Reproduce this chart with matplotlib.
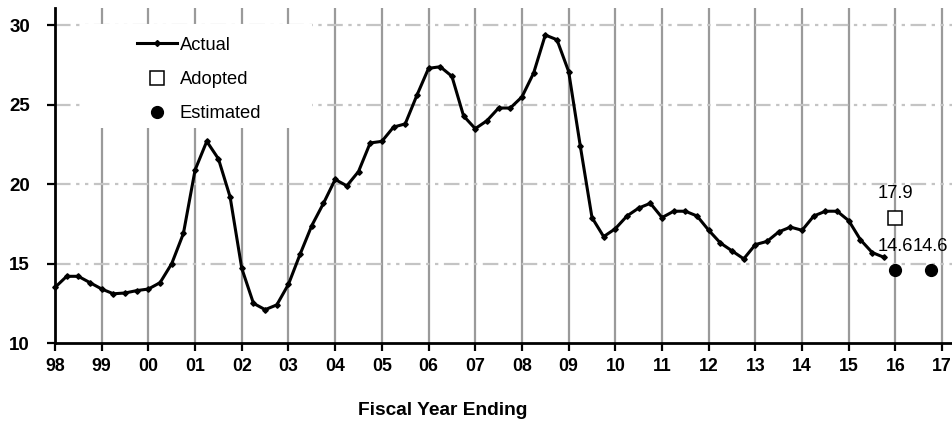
import numpy as np
import matplotlib
matplotlib.use("Agg")
import matplotlib.pyplot as plt
from matplotlib.patches import Rectangle
from matplotlib.lines import Line2D

plt.rcParams['font.family'] = ['Liberation Sans', 'DejaVu Sans']

# Quarterly actual values, FY98 Q1 .. FY15 Q4
actual = [
    13.5, 14.2, 14.2, 13.8,
    13.4, 13.1, 13.15, 13.3,
    13.4, 13.8, 15.0, 16.9,
    20.9, 22.7, 21.6, 19.2,
    14.7, 12.5, 12.1, 12.4,
    13.7, 15.6, 17.4, 18.8,
    20.3, 19.9, 20.8, 22.6,
    22.7, 23.6, 23.8, 25.6,
    27.3, 27.4, 26.8, 24.3,
    23.5, 24.0, 24.8, 24.8,
    25.5, 27.0, 29.4, 29.1,
    27.1, 22.4, 17.9, 16.7,
    17.2, 18.0, 18.5, 18.8,
    17.9, 18.3, 18.3, 18.0,
    17.1, 16.3, 15.8, 15.3,
    16.2, 16.4, 17.0, 17.3,
    17.1, 18.0, 18.3, 18.3,
    17.7, 16.5, 15.7, 15.4,
]
start_year = 1998
adopted_year = [2016.0]
adopted_val = [17.9]
estimated_year = [2016.0, 2016.75]
estimated_val = [14.6, 14.6]
year_labels = ['98', '99', '00', '01', '02', '03', '04', '05', '06', '07',
               '08', '09', '10', '11', '12', '13', '14', '15', '16', '17']
y_ticks = [10, 15, 20, 25, 30]

actual_x = start_year + np.arange(len(actual)) / 4.0

fig = plt.figure(figsize=(9.52, 4.23), dpi=100)
ax = fig.add_axes([55 / 952, 80 / 423, 897 / 952, 335 / 423])

ax.set_xlim(start_year, start_year + 19.21)
ax.set_ylim(10, 31.1)

# grid: solid grey verticals at each year, dash-dot horizontals
year_ticks = start_year + np.arange(len(year_labels))
for yr in year_ticks[1:]:
    ax.axvline(yr, color='#9a9a9a', lw=1.6, zorder=1)
for yv in y_ticks[1:]:
    ax.axhline(yv, color='#c4c4c4', lw=1.6, zorder=1,
               linestyle=(0, (7, 2.5, 1.5, 2.5, 1.5, 2.5)))

# blank panel behind the legend
ax.add_patch(Rectangle((0.028, 0.642), 0.259, 0.31, transform=ax.transAxes,
                       facecolor='white', edgecolor='none', zorder=2))

ax.plot(actual_x, actual, color='black', lw=2.2, marker='D', markersize=2.8,
        zorder=4, clip_on=False)
ax.plot(adopted_year, adopted_val, linestyle='none', marker='s', markersize=9.5,
        markerfacecolor='white', markeredgecolor='black', markeredgewidth=1.1, zorder=5)
ax.plot(estimated_year, estimated_val, linestyle='none', marker='o', markersize=8.5,
        color='black', zorder=5)

for xv, v in zip(adopted_year, adopted_val):
    ax.annotate(f'{v:.1f}', (xv, v), xytext=(0, 17.5), textcoords='offset points',
                ha='center', va='center', fontsize=13.2)
for xv, v in zip(estimated_year, estimated_val):
    ax.annotate(f'{v:.1f}', (xv, v), xytext=(0, 17), textcoords='offset points',
                ha='center', va='center', fontsize=13.2)

ax.set_xticks(year_ticks)
ax.set_xticklabels(year_labels, fontsize=12.8, fontweight='bold')
ax.set_yticks(y_ticks)
ax.set_yticklabels([str(t) for t in y_ticks], fontsize=13.5, fontweight='bold')
ax.tick_params(axis='both', direction='out', length=6, width=1.6, color='black')
ax.tick_params(axis='x', pad=5)
ax.tick_params(axis='y', pad=12)

for side in ['top', 'right']:
    ax.spines[side].set_visible(False)
for side in ['left', 'bottom']:
    ax.spines[side].set_linewidth(2)
    ax.spines[side].set_zorder(6)

handles = [
    Line2D([], [], color='black', lw=2.2, marker='D', markersize=3),
    Line2D([], [], linestyle='none', marker='s', markersize=9.5,
           markerfacecolor='white', markeredgecolor='black', markeredgewidth=1.1),
    Line2D([], [], linestyle='none', marker='o', markersize=8.5, color='black'),
]
leg = ax.legend(handles, ['Actual', 'Adopted', 'Estimated'], loc='upper left',
                bbox_to_anchor=(0.077, 0.953), frameon=False, fontsize=13.2,
                handlelength=2.2, handletextpad=0.15, labelspacing=0.95,
                borderpad=0.2)
leg.set_zorder(7)

fig.text(443 / 952, 1 - 410 / 423, 'Fiscal Year Ending', ha='center', va='center',
         fontsize=13.8, fontweight='bold')

fig.savefig('out.png', dpi=100)
